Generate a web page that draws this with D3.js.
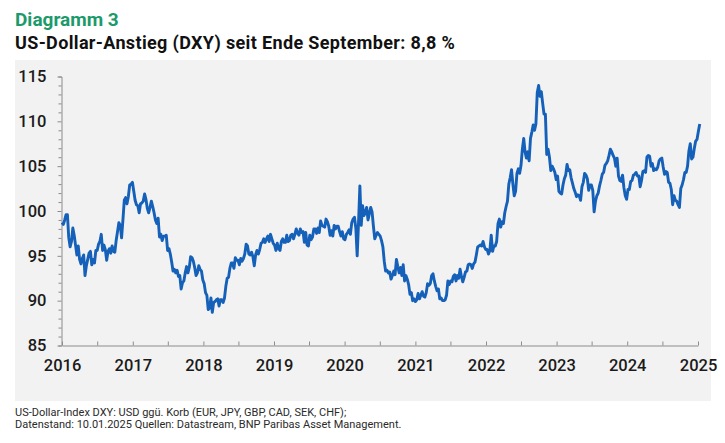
<!DOCTYPE html>
<html>
<head>
<meta charset="utf-8">
<script src="https://cdn.jsdelivr.net/npm/d3@7/dist/d3.min.js"></script>
<style>
  html, body { margin: 0; padding: 0; background: #ffffff; }
  svg { display: block; }
</style>
</head>
<body>
<svg id="chart" width="725" height="443"></svg>
<script>
// ---- Data: weekly DXY closes (Fridays), starting 2016-01-01 ----
const startDate = "2016-01-01";
const dxy2016 = [98.7,98.5,99.0,99.6,99.6, 97.0,96.0,96.6,98.1, 97.3,96.2,95.1,96.1, 94.6,94.1,94.7,95.1,92.8, 93.9,94.6,95.3,95.5, 94.0,94.6,94.2,95.6, 95.6,96.3,96.6,97.4,95.6, 96.2,95.7,94.5,95.5, 95.8,95.3,96.1,95.5,95.4, 96.7,97.7,98.7,98.4, 97.0,99.0,101.2,101.5, 100.8,101.6,102.9,103.0,103.2];
const dxy2017 = [102.2,101.2,100.7,100.6, 99.8,100.8,100.9,101.1, 101.9,101.3,100.3,99.8,100.4, 101.1,100.5,99.8,99.0, 98.6,99.2,97.1,97.4, 96.7,97.2,97.2,97.3,95.6, 95.8,95.2,94.3,93.3, 93.5,93.1,93.4,92.7, 92.8,91.3,92.0,92.2,93.1, 93.8,93.1,93.7,94.9, 94.8,94.4,93.7,92.8, 93.1,93.9,93.5,93.3,92.3];
const dxy2018 = [91.9,90.9,90.6,89.0, 89.2,90.3,88.7,89.8, 89.9,90.1,90.2,89.4,90.1, 90.1,89.8,90.3,91.6, 92.5,92.6,93.6,94.2, 94.2,93.6,94.8,94.5,94.5, 94.0,94.7,94.4,94.7, 95.2,96.3,96.1,95.2,95.1, 95.4,94.9,93.9,95.1, 95.6,95.2,95.7,96.4, 96.5,96.9,96.5,96.9,97.2, 96.6,97.4,96.9,96.4];
const dxy2019 = [96.2,95.6,96.4,95.8, 95.6,96.6,96.9,96.5, 96.5,97.3,96.6,96.7,97.3, 97.4,96.9,97.4,98.0, 97.5,97.3,98.0,97.6,97.7, 96.5,97.6,96.2,96.1, 97.3,96.8,97.1,98.0, 98.0,97.5,98.1,97.6,98.9, 98.4,98.3,98.2,99.1, 98.8,98.3,97.3,97.8, 97.2,98.4,98.0,98.3,98.3, 97.7,97.2,97.7,96.9];
const dxy2020 = [96.8,97.4,97.6,97.9,97.4, 98.7,99.1,99.3,98.1, 95.0,98.7,102.8,98.4, 100.6,99.5,99.8,100.4, 99.0,99.7,100.4,99.9,98.3, 96.9,97.3,97.6,97.4, 97.2,96.7,96.0,94.4,93.3, 93.4,93.1,93.2,92.4, 92.8,93.3,92.9,94.6, 93.8,93.1,93.7,92.8,94.0, 92.2,92.8,92.4,91.8, 90.7,90.9,90.0,90.2];
const dxy2021 = [89.9,90.1,90.8,90.2,90.6, 91.0,90.5,90.4,90.9, 91.9,91.7,91.9,92.8, 93.0,92.2,91.6,91.1,91.3, 90.2,90.3,90.0,90.0, 90.1,90.6,92.2,91.8, 92.2,92.1,92.7,92.9,92.2, 92.8,92.5,93.5,92.7, 92.1,92.6,93.2,93.3, 94.0,94.1,94.0,93.6,94.1, 94.3,95.1,96.0,96.1, 96.2,96.1,96.6,96.0,95.7];
const dxy2022 = [95.7,95.2,95.6,97.3, 95.5,96.1,96.1,96.6, 98.6,99.1,98.2,98.8, 98.6,99.8,100.5,101.1,103.0, 103.7,104.6,103.0,101.7, 102.2,104.2,104.7,104.2, 105.1,106.9,108.1,106.6,105.9, 106.6,105.6,108.1,108.8, 109.6,109.0,109.7,113.2,114.0, 112.8,113.3,112.0,110.8, 110.8,106.3,106.9,106.0, 104.5,105.0,104.7,104.3,103.5];
const dxy2023 = [103.9,102.2,102.0,101.9, 102.9,103.6,104.0,105.2, 104.5,104.6,103.7,103.1,102.5, 102.1,101.6,101.8,101.7, 101.2,102.7,103.2,104.2, 104.0,103.6,102.3,102.9,102.9, 102.3,99.9,101.1,101.7, 102.0,102.8,103.4,104.1, 104.3,105.1,105.3,105.6,106.2, 106.9,106.6,106.2,105.9, 105.0,105.9,103.9,103.4, 103.3,104.0,102.6,101.7,101.3];
const dxy2024 = [102.4,102.4,103.3,103.4, 104.0,104.1,104.3,103.9, 103.9,102.7,103.4,104.4,104.5, 104.3,106.0,106.2,106.1, 105.0,105.3,104.5,104.7,104.6, 104.9,105.6,105.8,105.9, 104.9,104.1,104.4,104.3, 103.2,103.1,102.4,100.7,101.7, 101.2,101.1,100.7,100.4, 102.5,102.9,103.5,104.3, 104.3,105.0,106.7,107.5,105.8, 106.0,107.0,107.8,108.0];
const dxy2025 = [108.9,109.7];

const yTicks = [85, 90, 95, 100, 105, 110, 115];
const xTickYears = [2016, 2017, 2018, 2019, 2020, 2021, 2022, 2023, 2024, 2025];

const titleText = "Diagramm 3";
const subtitleText = "US-Dollar-Anstieg (DXY) seit Ende September: 8,8 %";
const noteLines = [
  "US-Dollar-Index DXY: USD ggü. Korb (EUR, JPY, GBP, CAD, SEK, CHF);",
  "Datenstand: 10.01.2025 Quellen: Datastream, BNP Paribas Asset Management."
];

// ---- Build series ----
const allValues = [].concat(dxy2016, dxy2017, dxy2018, dxy2019, dxy2020, dxy2021, dxy2022, dxy2023, dxy2024, dxy2025);
const parse = d3.timeParse("%Y-%m-%d");
const t0 = parse(startDate);
const series = allValues.map((v, i) => ({ date: d3.timeDay.offset(t0, 7 * i), value: v }));

// ---- Layout ----
const svg = d3.select("#chart");
const FONT = "Roboto, 'Noto Sans', 'DejaVu Sans', sans-serif";

svg.append("rect").attr("x", 15).attr("y", 60).attr("width", 696).attr("height", 341).attr("fill", "#f2f2f2");

svg.append("text").attr("x", 15).attr("y", 26)
  .attr("font-family", FONT).attr("font-weight", 700).attr("font-size", 19)
  .attr("fill", "#1c9a6b").text(titleText);
svg.append("text").attr("x", 15).attr("y", 48.5)
  .attr("font-family", FONT).attr("font-weight", 700).attr("font-size", 18)
  .attr("letter-spacing", 0.35)
  .attr("fill", "#111").text(subtitleText);

const x = d3.scaleTime().domain([new Date(2016, 0, 1), new Date(2025, 0, 1)]).range([62, 698]);
const y = d3.scaleLinear().domain([85, 115]).range([345.5, 76.5]);

// Y axis
const yAxis = d3.axisLeft(y).tickValues(d3.range(85, 116, 1)).tickSize(3)
  .tickFormat(d => yTicks.includes(d) ? d : "");
const gy = svg.append("g").attr("transform", "translate(61.5,0)").call(yAxis);
gy.select(".domain").attr("stroke", "#8c8c8c");
gy.selectAll(".tick line").attr("stroke", "#8c8c8c")
  .attr("x2", d => yTicks.includes(d) ? -4 : -3);
gy.selectAll(".tick text").attr("font-family", FONT).attr("font-size", 16.5)
  .attr("font-weight", 500).attr("fill", "#1a1a1a").attr("x", -15);

// X axis (ticks upward, labels below)
const xTickDates = [];
xTickYears.forEach(yr => { xTickDates.push(new Date(yr, 0, 1)); if (yr < 2025) xTickDates.push(new Date(yr, 6, 1)); });
const xAxis = d3.axisBottom(x).tickValues(xTickDates).tickSize(0)
  .tickFormat(d => d.getMonth() === 0 ? d3.timeFormat("%Y")(d) : "");
const gx = svg.append("g").attr("transform", "translate(0,345.5)").call(xAxis);
gx.select(".domain").attr("stroke", "#8c8c8c");
gx.selectAll(".tick line").attr("stroke", "#8c8c8c").attr("y2", -4);
gx.selectAll(".tick text").attr("font-family", FONT).attr("font-size", 16.5)
  .attr("font-weight", 500).attr("fill", "#1a1a1a").attr("y", 14);

// Line
const line = d3.line().x(d => x(d.date)).y(d => y(d.value)).curve(d3.curveLinear);
svg.append("path").datum(series).attr("d", line)
  .attr("fill", "none").attr("stroke", "#1560b8").attr("stroke-width", 2.9)
  .attr("stroke-linejoin", "round");

// Notes
noteLines.forEach((t, i) => {
  svg.append("text").attr("x", 15).attr("y", 416 + i * 12)
    .attr("font-family", FONT).attr("font-size", 11).attr("fill", "#2a2a2a").text(t);
});
</script>
</body>
</html>
